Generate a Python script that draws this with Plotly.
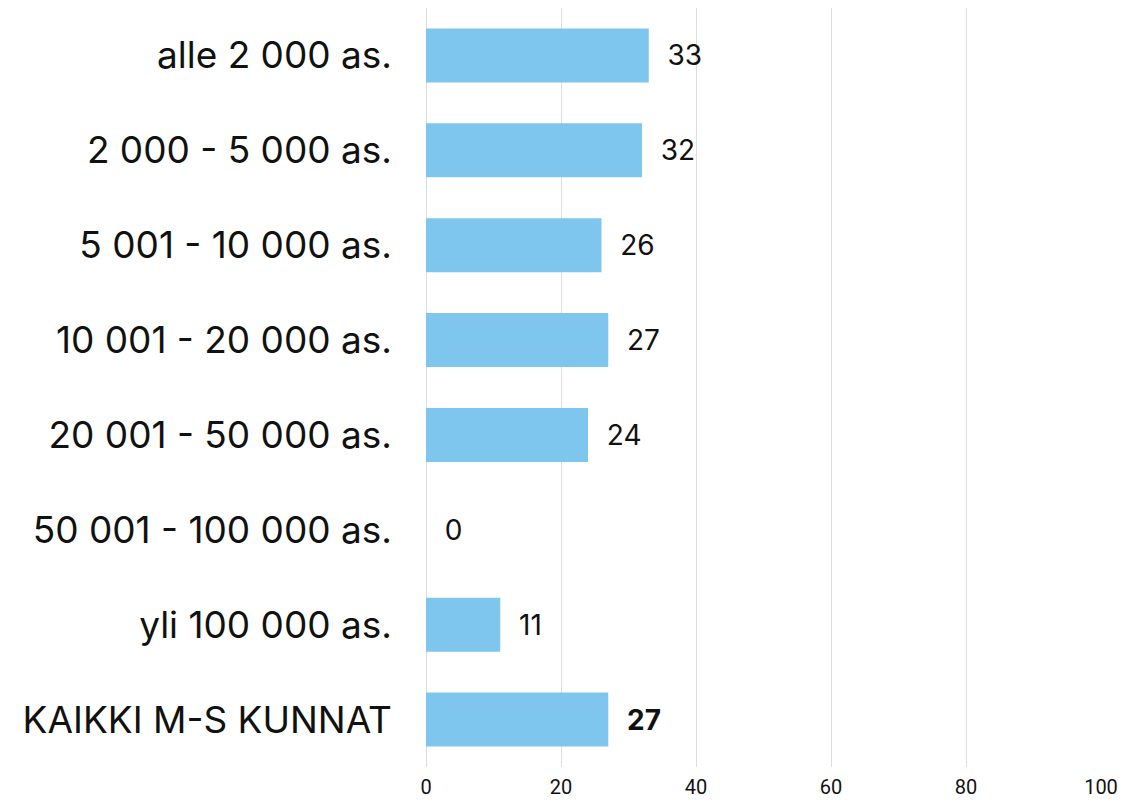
import plotly.graph_objects as go

categories = [
    "alle 2 000 as.",
    "2 000 - 5 000 as.",
    "5 001 - 10 000 as.",
    "10 001 - 20 000 as.",
    "20 001 - 50 000 as.",
    "50 001 - 100 000 as.",
    "yli 100 000 as.",
    "KAIKKI M-S KUNNAT",
]
values = [33, 32, 26, 27, 24, 0, 11, 27]
labels = [f"  {v}" for v in values[:-1]] + [f"  <b>{values[-1]}</b>"]
x_ticks = [0, 20, 40, 60, 80, 100]

fig = go.Figure(
    go.Bar(
        x=values,
        y=categories,
        orientation="h",
        marker={"color": "#7FC6EE", "line": {"width": 0}},
        text=labels,
        textposition="outside",
        textfont={"size": 28, "color": "#111111", "family": "Inter"},
        cliponaxis=False,
        width=0.57,
    )
)

# page body has an 8px margin, so margins are shifted by that
fig.update_layout(
    width=1147,
    height=803,
    margin={"l": 418, "r": 54, "t": 0, "b": 44},
    plot_bgcolor="white",
    paper_bgcolor="white",
    showlegend=False,
    font={"family": "Inter", "color": "#111111"},
)
fig.update_yaxes(
    autorange="reversed",
    tickfont={"size": 37, "family": "Inter"},
    ticklabelstandoff=33,
    showgrid=False,
    showline=False,
    automargin=False,
)
fig.update_xaxes(
    range=[0, 100],
    tickvals=x_ticks,
    tickfont={"size": 20, "family": "Roboto"},
    ticklabelstandoff=6,
    showgrid=True,
    gridcolor="#DDDDDD",
    gridwidth=1,
    zeroline=True,
    zerolinecolor="#DDDDDD",
    zerolinewidth=1,
    showline=False,
    ticks="",
    automargin=False,
)

fig.write_html("out.html")
